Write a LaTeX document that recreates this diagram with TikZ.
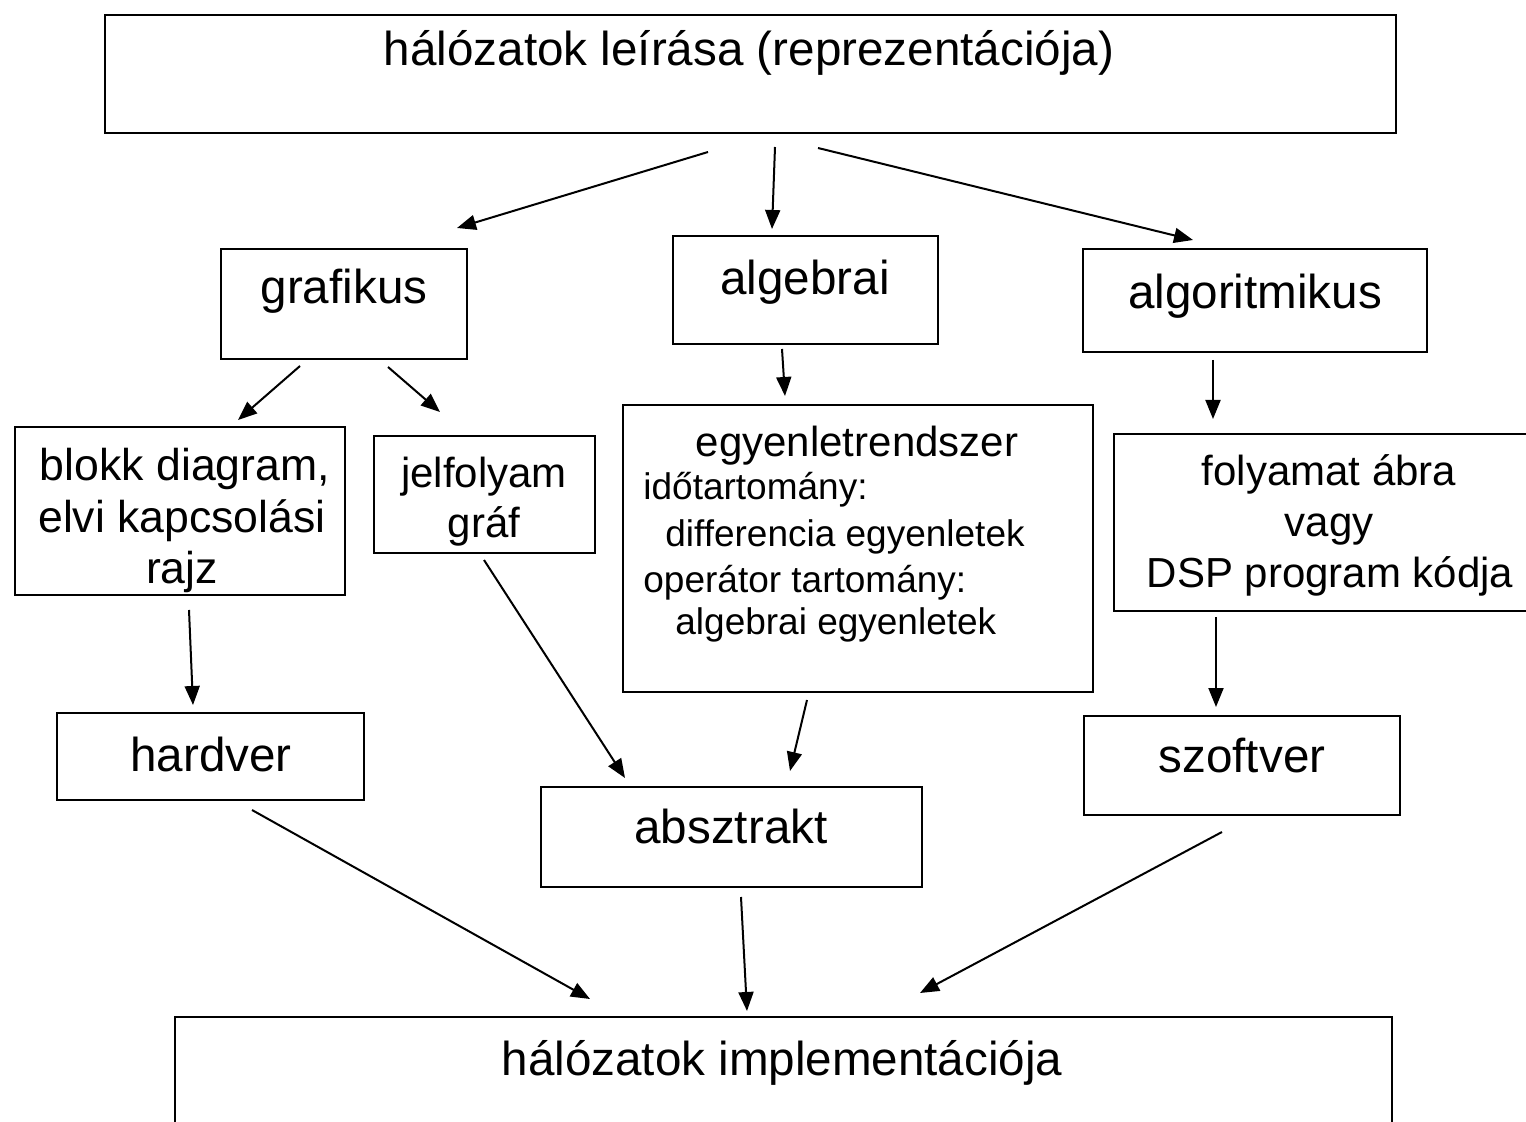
\documentclass[tikz,border=0pt]{standalone}
\usepackage{fontspec}
\setmainfont{Liberation Sans}
\usetikzlibrary{arrows.meta,fit}
\begin{document}
\begin{tikzpicture}[x=0.5pt,y=-0.5pt,
  box/.style={draw, line width=1pt, inner sep=0pt},
  big/.style={font=\fontsize{23.8}{27}\selectfont, inner sep=0pt, anchor=base},
  med/.style={font=\fontsize{21}{25}\selectfont, inner sep=0pt, anchor=base},
  medb/.style={font=\fontsize{22.3}{26}\selectfont, inner sep=0pt, anchor=base},
  sml/.style={font=\fontsize{18.5}{22}\selectfont, inner sep=0pt, anchor=base west},
  arr/.style={-{Triangle[length=9.5pt,width=7.5pt]}, line width=1pt}]
\useasboundingbox (0,0) rectangle (1526,1122);
\clip (0,0) rectangle (1526,1122);

% boxes
\node[box, line width=1.3pt, fit={(105,15) (1396,133)}] (top) {};
\node[box, fit={(221,249) (467,359)}] (graf) {};
\node[box, fit={(673,236) (938,344)}] (alg) {};
\node[box, fit={(1083,249) (1427,352)}] (algor) {};
\node[box, fit={(15,427) (345,595)}] (blokk) {};
\node[box, fit={(374,436) (595,553)}] (jel) {};
\node[box, fit={(623,405) (1093,692)}] (egy) {};
\node[box, fit={(1114,434) (1545,611)}] (foly) {};
\node[box, fit={(57,713) (364,800)}] (hard) {};
\node[box, fit={(541,787) (922,887)}] (abs) {};
\node[box, fit={(1084,716) (1400,815)}] (szoft) {};
\node[box, line width=1.3pt, fit={(175,1017) (1392,1150)}] (impl) {};

% texts
\node[big] (ttop) at (749,66) {hálózatok leírása (reprezentációja)};
\node[big] (tgraf) at (344,304) {grafikus};
\node[big] (talg) at (805,295) {algebrai};
\node[big] (talgor) at (1255,309) {algoritmikus};
\node[medb] (tb1) at (185,481) {blokk diagram,};
\node[medb] (tb2) at (182,533) {elvi kapcsolási};
\node[medb] (tb3) at (182,584) {rajz};
\node[med] (tj1) at (484,488) {jelfolyam};
\node[med] (tj2) at (484,538) {gráf};
\node[med] (te0) at (857,457) {egyenletrendszer};
\node[sml] (te1) at (643,500) {időtartomány:};
\node[sml] (te2) at (665,547) {differencia egyenletek};
\node[sml] (te3) at (643,593) {operátor tartomány:};
\node[sml] (te4) at (675,635) {algebrai egyenletek};
\node[med] (tf1) at (1329,486) {folyamat ábra};
\node[med] (tf2) at (1329,537) {vagy};
\node[med] (tf3) at (1330,588) {DSP program kódja};
\node[big] (thard) at (211,771) {hardver};
\node[big] (tabs) at (731,843) {absztrakt};
\node[big] (tszoft) at (1242,772) {szoftver};
\node[big] (timpl) at (782,1075) {hálózatok implementációja};

% arrow end points
\coordinate (a1s) at (708,152);  \coordinate (a1e) at (457,228);
\coordinate (a2s) at (775,147);  \coordinate (a2e) at (772,229);
\coordinate (a3s) at (818,148);  \coordinate (a3e) at (1193,240);
\coordinate (a4s) at (300,366);  \coordinate (a4e) at (238,420);
\coordinate (a5s) at (388,367);  \coordinate (a5e) at (440,412);
\coordinate (a6s) at (782,349);  \coordinate (a6e) at (785,396);
\coordinate (a7s) at (1213,360); \coordinate (a7e) at (1213,419);
\coordinate (a8s) at (189,610);  \coordinate (a8e) at (193,705);
\coordinate (a9s) at (484,560);  \coordinate (a9e) at (625,778);
\coordinate (a10s) at (807,700); \coordinate (a10e) at (790,771);
\coordinate (a11s) at (1216,617);\coordinate (a11e) at (1216,707);
\coordinate (a12s) at (252,810); \coordinate (a12e) at (590,999);
\coordinate (a13s) at (741,897); \coordinate (a13e) at (747,1011);
\coordinate (a14s) at (1222,832);\coordinate (a14e) at (920,993);

\foreach \i in {1,...,14} \draw[arr] (a\i s) -- (a\i e);
\end{tikzpicture}
\end{document}
